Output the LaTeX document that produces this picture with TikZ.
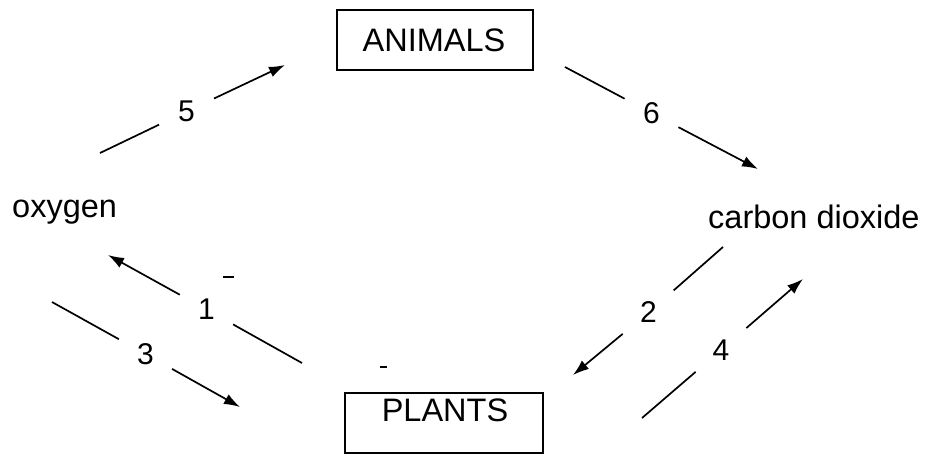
\documentclass[tikz,border=0pt]{standalone}
\usepackage{fontspec}
\setmainfont{Liberation Sans}
\usetikzlibrary{arrows.meta}
\begin{document}
\begin{tikzpicture}[x=1pt,y=-1pt,
  box/.style={draw,line width=1.8pt,minimum width=196pt,minimum height=60pt,inner sep=0pt},
  word/.style={inner sep=0pt,font=\fontsize{32.5}{38}\selectfont},
  numlab/.style={circle,inner sep=0pt,outer sep=0pt,minimum size=61pt,font=\fontsize{30}{34}\selectfont},
  numlabw/.style={numlab,minimum size=67pt},
  seg/.style={line width=1.7pt},
  arr/.style={seg,-{Latex[length=16pt,width=11pt]}},
  tick/.style={line width=1.5pt}]
\useasboundingbox (0,0) rectangle (926,459);
% boxes and words
\node[box,minimum width=196pt] (animals) at (435,40) {};
\node[word,anchor=base] (animalsT) at (434,51) {ANIMALS};
\node[box,minimum width=198pt] (plants) at (444,423) {};
\node[word,anchor=base] (plantsT) at (445,421) {PLANTS};
\node[word,anchor=base west] (oxygen) at (12,217) {oxygen};
\node[word,anchor=base west] (co2) at (708,228) {carbon dioxide};
% number labels
\node[numlab] (n5) at (186.5,111.5) {5};
\node[numlab] (n6) at (651.5,113) {6};
\node[numlab] (n1) at (206.5,309.5) {1};
\node[numlab] (n3) at (145.5,354) {3};
\node[numlabw] (n2) at (648.5,312.5) {2};
\node[numlabw] (n4) at (721,350) {4};
% connector ends
\coordinate (s5) at (100,153);  \coordinate (e5) at (285,65);
\coordinate (s6) at (565,67);   \coordinate (e6) at (758,169);
\coordinate (s1) at (302,363);  \coordinate (e1) at (108,255);
\coordinate (s3) at (52,302);   \coordinate (e3) at (240,407);
\coordinate (s2) at (723,247);  \coordinate (e2) at (573,375);
\coordinate (s4) at (642,418);  \coordinate (e4) at (803,279);
% connectors
\draw[seg] (s5) -- (n5); \draw[arr] (n5) -- (e5);
\draw[seg] (s6) -- (n6); \draw[arr] (n6) -- (e6);
\draw[seg] (s1) -- (n1); \draw[arr] (n1) -- (e1);
\draw[seg] (s3) -- (n3); \draw[arr] (n3) -- (e3);
\draw[seg] (s2) -- (n2); \draw[arr] (n2) -- (e2);
\draw[seg] (s4) -- (n4); \draw[arr] (n4) -- (e4);
% stray marks
\coordinate (m1a) at (223,277); \coordinate (m1b) at (234,277);
\coordinate (m2a) at (380,367); \coordinate (m2b) at (387,367);
\draw[tick] (m1a) -- (m1b);
\draw[line width=2.4pt] (m2a) -- (m2b);
\end{tikzpicture}
\end{document}
